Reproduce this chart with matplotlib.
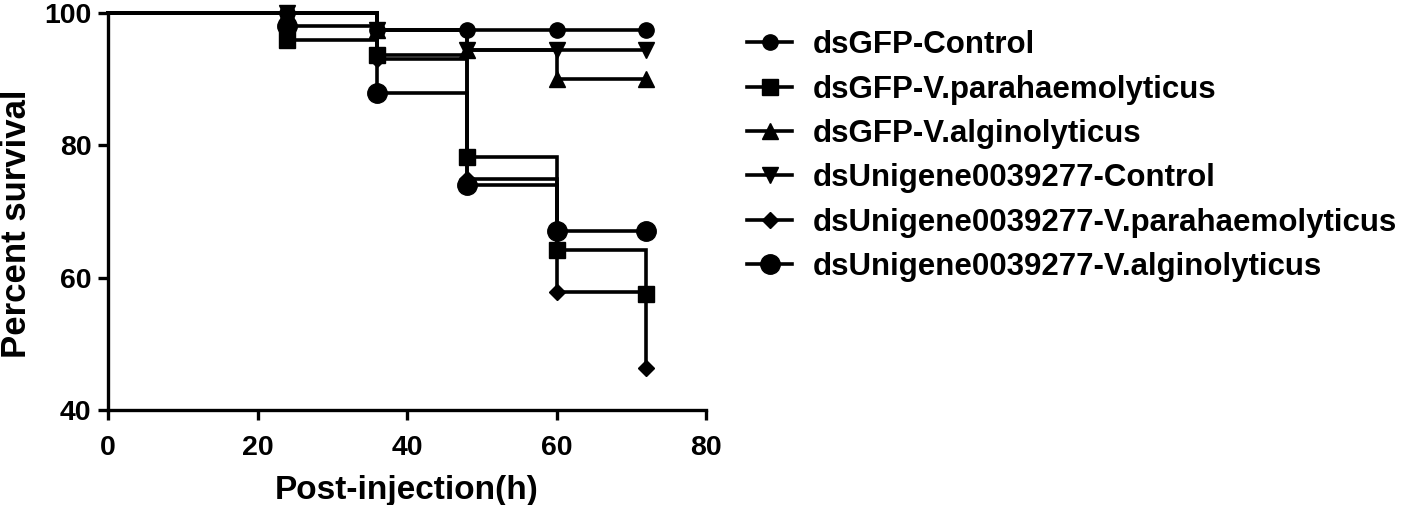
import matplotlib.pyplot as plt

plt.rcParams['font.family'] = ['Liberation Sans', 'DejaVu Sans']
plt.rcParams['font.weight'] = 'bold'

hours = [0, 24, 36, 48, 60, 72]

gfp_control = [100, 100, 97.5, 97.5, 97.5, 97.5]
gfp_vpara = [100, 95.9, 93.6, 78.3, 64.2, 57.6]
gfp_valg = [100, 100, 97.5, 94.4, 90.0, 90.0]
uni_control = [100, 100, 97.5, 94.4, 94.4, 94.4]
uni_vpara = [100, 100, 93.0, 74.9, 57.8, 46.3]
uni_valg = [100, 98.0, 88.0, 74.0, 67.0, 67.0]

labels = ['dsGFP-Control', 'dsGFP-V.parahaemolyticus', 'dsGFP-V.alginolyticus',
          'dsUnigene0039277-Control', 'dsUnigene0039277-V.parahaemolyticus',
          'dsUnigene0039277-V.alginolyticus']
series = [gfp_control, gfp_vpara, gfp_valg, uni_control, uni_vpara, uni_valg]
markers = ['o', 's', '^', 'v', 'D', 'o']
sizes = [11, 12, 12, 12, 8.5, 14]

fig = plt.figure(figsize=(14.18, 5.05), dpi=100)
ax = fig.add_axes([0.0762, 0.188, 0.4217, 0.786])

for vals, lab, m, ms in zip(series, labels, markers, sizes):
    ax.plot(hours, vals, drawstyle='steps-post', color='black', lw=2.6,
            marker=m, ms=ms, markevery=slice(1, None), label=lab,
            clip_on=False, solid_joinstyle='miter')

ax.set_xlim(0, 80)
ax.set_ylim(40, 100)
ax.set_xticks([0, 20, 40, 60, 80])
ax.set_yticks([40, 60, 80, 100])
for s in ['top', 'right']:
    ax.spines[s].set_visible(False)
for s in ['left', 'bottom']:
    ax.spines[s].set_linewidth(2.4)
ax.tick_params(direction='out', length=7, width=2.4, labelsize=20.5)
ax.tick_params(axis='x', pad=11)
ax.tick_params(axis='y', pad=5)
ax.set_xlabel('Post-injection(h)', fontsize=24, fontweight='bold', labelpad=10)
ax.set_ylabel('Percent survival', fontsize=25, fontweight='bold')
ax.yaxis.set_label_coords(-0.125, 0.47)

ax.legend(loc='upper left', bbox_to_anchor=(0.518, 0.965), bbox_transform=fig.transFigure,
          frameon=False, fontsize=22.5, handlelength=1.45, handletextpad=0.65,
          labelspacing=0.46, borderaxespad=0)

fig.savefig('out.png', dpi=100)
